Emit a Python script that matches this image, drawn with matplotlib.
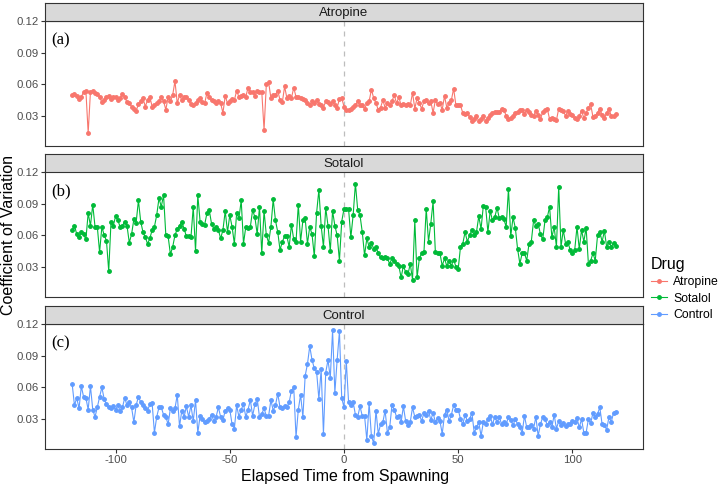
import numpy as np
import matplotlib.pyplot as plt
from matplotlib.lines import Line2D

plt.rcParams["font.family"] = ["Liberation Sans", "DejaVu Sans"]
plt.rcParams["axes.unicode_minus"] = False

# elapsed time from spawning, one reading per step
time = np.arange(-119, 120)

drugs = ["Atropine", "Sotalol", "Control"]
colors = ["#F8766D", "#00BA38", "#619CFF"]
tags = ["(a)", "(b)", "(c)"]
yticks = [0.03, 0.06, 0.09, 0.12]
xticks = [-100, -50, 0, 50, 100]

atropine = [
    0.050, 0.051, 0.049, 0.046, 0.048, 0.053, 0.054, 0.014, 0.053, 0.054,
    0.052, 0.051, 0.048, 0.043, 0.045, 0.048, 0.049, 0.046, 0.048, 0.048,
    0.045, 0.047, 0.051, 0.048, 0.043, 0.042, 0.039, 0.037, 0.035, 0.041,
    0.044, 0.047, 0.039, 0.045, 0.048, 0.039, 0.040, 0.042, 0.044, 0.048,
    0.044, 0.036, 0.048, 0.044, 0.050, 0.063, 0.042, 0.050, 0.045, 0.048,
    0.048, 0.045, 0.041, 0.040, 0.042, 0.045, 0.047, 0.043, 0.042, 0.052,
    0.048, 0.045, 0.044, 0.042, 0.044, 0.042, 0.033, 0.049, 0.042, 0.044,
    0.046, 0.045, 0.054, 0.048, 0.049, 0.050, 0.048, 0.057, 0.053, 0.053,
    0.049, 0.054, 0.053, 0.053, 0.017, 0.060, 0.062, 0.047, 0.050, 0.050,
    0.054, 0.045, 0.043, 0.058, 0.047, 0.049, 0.047, 0.057, 0.048, 0.048,
    0.047, 0.046, 0.045, 0.042, 0.040, 0.044, 0.042, 0.045, 0.041, 0.040,
    0.038, 0.044, 0.043, 0.041, 0.044, 0.040, 0.038, 0.046, 0.047, 0.039,
    0.036, 0.036, 0.037, 0.039, 0.040, 0.044, 0.040, 0.040, 0.037, 0.042,
    0.044, 0.055, 0.047, 0.042, 0.036, 0.038, 0.045, 0.038, 0.042, 0.040,
    0.044, 0.050, 0.042, 0.048, 0.040, 0.041, 0.040, 0.041, 0.040, 0.052,
    0.037, 0.047, 0.042, 0.037, 0.044, 0.045, 0.042, 0.044, 0.033, 0.045,
    0.041, 0.042, 0.036, 0.049, 0.038, 0.042, 0.045, 0.056, 0.040, 0.040,
    0.040, 0.033, 0.032, 0.033, 0.029, 0.025, 0.027, 0.030, 0.025, 0.027,
    0.030, 0.025, 0.028, 0.031, 0.033, 0.034, 0.034, 0.034, 0.037, 0.036,
    0.030, 0.027, 0.028, 0.030, 0.033, 0.034, 0.036, 0.036, 0.032, 0.036,
    0.034, 0.031, 0.030, 0.035, 0.031, 0.027, 0.034, 0.036, 0.037, 0.027,
    0.028, 0.027, 0.026, 0.037, 0.036, 0.035, 0.030, 0.035, 0.032, 0.031,
    0.028, 0.027, 0.030, 0.035, 0.028, 0.033, 0.038, 0.041, 0.029, 0.030,
    0.033, 0.037, 0.031, 0.028, 0.033, 0.037, 0.030, 0.030, 0.032,
]

sotalol = [
    0.065, 0.069, 0.061, 0.058, 0.063, 0.061, 0.056, 0.081, 0.069, 0.089,
    0.068, 0.068, 0.044, 0.068, 0.060, 0.055, 0.026, 0.073, 0.069, 0.078,
    0.074, 0.068, 0.069, 0.073, 0.069, 0.053, 0.061, 0.075, 0.072, 0.093,
    0.073, 0.063, 0.058, 0.052, 0.057, 0.065, 0.068, 0.079, 0.095, 0.087,
    0.098, 0.060, 0.059, 0.042, 0.049, 0.060, 0.066, 0.069, 0.073, 0.066,
    0.059, 0.059, 0.058, 0.087, 0.045, 0.098, 0.073, 0.071, 0.070, 0.081,
    0.084, 0.071, 0.066, 0.068, 0.065, 0.057, 0.065, 0.083, 0.063, 0.079,
    0.068, 0.052, 0.081, 0.076, 0.093, 0.052, 0.068, 0.067, 0.068, 0.084,
    0.077, 0.061, 0.087, 0.043, 0.083, 0.060, 0.053, 0.068, 0.094, 0.074,
    0.063, 0.046, 0.054, 0.059, 0.059, 0.049, 0.070, 0.056, 0.054, 0.089,
    0.054, 0.074, 0.076, 0.052, 0.068, 0.061, 0.040, 0.081, 0.103, 0.069,
    0.049, 0.086, 0.069, 0.045, 0.083, 0.069, 0.060, 0.036, 0.073, 0.085,
    0.085, 0.085, 0.058, 0.079, 0.109, 0.084, 0.079, 0.063, 0.041, 0.057,
    0.049, 0.053, 0.047, 0.049, 0.043, 0.039, 0.038, 0.039, 0.038, 0.033,
    0.038, 0.036, 0.033, 0.031, 0.020, 0.031, 0.025, 0.023, 0.033, 0.018,
    0.074, 0.020, 0.038, 0.043, 0.044, 0.085, 0.054, 0.071, 0.092, 0.044,
    0.043, 0.043, 0.031, 0.038, 0.031, 0.036, 0.031, 0.037, 0.030, 0.028,
    0.049, 0.052, 0.063, 0.054, 0.060, 0.065, 0.060, 0.063, 0.078, 0.066,
    0.088, 0.087, 0.063, 0.083, 0.074, 0.077, 0.086, 0.076, 0.077, 0.075,
    0.068, 0.104, 0.059, 0.077, 0.067, 0.047, 0.033, 0.043, 0.043, 0.036,
    0.052, 0.054, 0.074, 0.069, 0.071, 0.061, 0.056, 0.074, 0.077, 0.087,
    0.058, 0.068, 0.049, 0.106, 0.049, 0.065, 0.052, 0.054, 0.046, 0.043,
    0.046, 0.068, 0.047, 0.065, 0.054, 0.067, 0.033, 0.036, 0.043, 0.036,
    0.060, 0.063, 0.054, 0.064, 0.049, 0.054, 0.049, 0.053, 0.050,
]

control = [
    0.063, 0.043, 0.050, 0.040, 0.061, 0.051, 0.050, 0.039, 0.061, 0.039,
    0.032, 0.041, 0.051, 0.060, 0.049, 0.044, 0.041, 0.040, 0.042, 0.039,
    0.043, 0.038, 0.041, 0.050, 0.043, 0.046, 0.041, 0.027, 0.043, 0.051,
    0.046, 0.043, 0.040, 0.038, 0.044, 0.045, 0.017, 0.032, 0.041, 0.041,
    0.034, 0.032, 0.025, 0.040, 0.038, 0.040, 0.053, 0.023, 0.038, 0.032,
    0.042, 0.032, 0.043, 0.028, 0.048, 0.017, 0.033, 0.030, 0.027, 0.028,
    0.030, 0.034, 0.028, 0.032, 0.041, 0.032, 0.029, 0.038, 0.040, 0.039,
    0.025, 0.021, 0.043, 0.032, 0.039, 0.044, 0.032, 0.039, 0.048, 0.033,
    0.044, 0.049, 0.032, 0.035, 0.040, 0.033, 0.033, 0.048, 0.038, 0.043,
    0.054, 0.041, 0.040, 0.042, 0.041, 0.046, 0.057, 0.060, 0.013, 0.039,
    0.053, 0.032, 0.071, 0.082, 0.099, 0.086, 0.078, 0.075, 0.049, 0.077,
    0.016, 0.074, 0.086, 0.069, 0.114, 0.055, 0.086, 0.113, 0.050, 0.041,
    0.085, 0.046, 0.043, 0.046, 0.034, 0.032, 0.042, 0.033, 0.033, 0.010,
    0.045, 0.014, 0.007, 0.038, 0.016, 0.025, 0.027, 0.038, 0.017, 0.022,
    0.043, 0.039, 0.032, 0.033, 0.027, 0.042, 0.028, 0.024, 0.027, 0.041,
    0.032, 0.033, 0.034, 0.028, 0.036, 0.034, 0.038, 0.029, 0.036, 0.027,
    0.031, 0.028, 0.016, 0.034, 0.039, 0.028, 0.034, 0.043, 0.039, 0.039,
    0.030, 0.025, 0.034, 0.028, 0.030, 0.036, 0.017, 0.022, 0.027, 0.014,
    0.027, 0.025, 0.030, 0.033, 0.025, 0.032, 0.027, 0.032, 0.025, 0.027,
    0.025, 0.032, 0.029, 0.024, 0.030, 0.025, 0.022, 0.017, 0.033, 0.022,
    0.022, 0.024, 0.021, 0.032, 0.014, 0.025, 0.032, 0.030, 0.024, 0.027,
    0.022, 0.034, 0.021, 0.028, 0.024, 0.026, 0.023, 0.025, 0.025, 0.028,
    0.027, 0.031, 0.022, 0.030, 0.017, 0.017, 0.030, 0.026, 0.036, 0.032,
    0.035, 0.041, 0.025, 0.024, 0.020, 0.032, 0.027, 0.036, 0.037,
]

series = [atropine, sotalol, control]

W, H = 725, 487
fig = plt.figure(figsize=(W / 100, H / 100), dpi=100)


def rect(left, top, width, height):
    # pixel box -> figure fraction
    return [left / W, 1 - (top + height) / H, width / W, height / H]


panel_left, panel_w, panel_h = 45, 598, 125.4
panel_tops = [20.6, 171.5, 323.6]
strip_h = 17.5
border = "#333333"

for i, (drug, vals, col, tag) in enumerate(zip(drugs, series, colors, tags)):
    top = panel_tops[i]
    ax = fig.add_axes(rect(panel_left, top, panel_w, panel_h))
    ax.axvline(0, color="#BDBDBD", ls=(0, (4, 4)), lw=0.9, zorder=0)
    ax.plot(time, vals, color=col, lw=0.8, marker="o", ms=2.5, mec=col, mfc=col)
    ax.set_xlim(-130.9, 130.9)
    ax.set_ylim(0.0016, 0.1204)
    ax.set_yticks(yticks)
    ax.set_yticklabels([f"{t:.2f}" for t in yticks])
    for s in ax.spines.values():
        s.set_color(border)
        s.set_linewidth(0.8)
    ax.tick_params(color=border, length=3, width=0.8, labelcolor="#4D4D4D", labelsize=8.2, pad=1.5)
    if i < 2:
        ax.set_xticks([])
    else:
        ax.set_xticks(xticks)
        ax.set_xticklabels([str(t) for t in xticks])
    ax.text(-128, 0.102, tag, family="Liberation Serif", fontsize=12, ha="left", va="center")

    sax = fig.add_axes(rect(panel_left, top - strip_h, panel_w, strip_h))
    sax.set_facecolor("#D9D9D9")
    sax.set_xticks([])
    sax.set_yticks([])
    for s in sax.spines.values():
        s.set_color(border)
        s.set_linewidth(0.8)
    sax.text(0.5, 0.45, drug, transform=sax.transAxes, ha="center", va="center", fontsize=9.5, color="#1A1A1A")

fig.text(345 / W, 1 - 477 / H, "Elapsed Time from Spawning", ha="center", va="center", fontsize=11.5)
fig.text(9 / W, 1 - 235 / H, "Coefficient of Variation", ha="center", va="center", rotation=90, fontsize=11.5)

handles = [Line2D([0], [0], color=c, lw=0.8, marker="o", ms=2.5) for c in colors]
fig.legend(handles, drugs, title="Drug", loc="upper left", bbox_to_anchor=(651 / W, 1 - 257 / H),
           frameon=False, fontsize=8.8, title_fontsize=11.5, handlelength=1.3, handletextpad=0.5,
           labelspacing=0.35, alignment="left", borderaxespad=0, borderpad=0)

plt.savefig("out.png", dpi=100)
